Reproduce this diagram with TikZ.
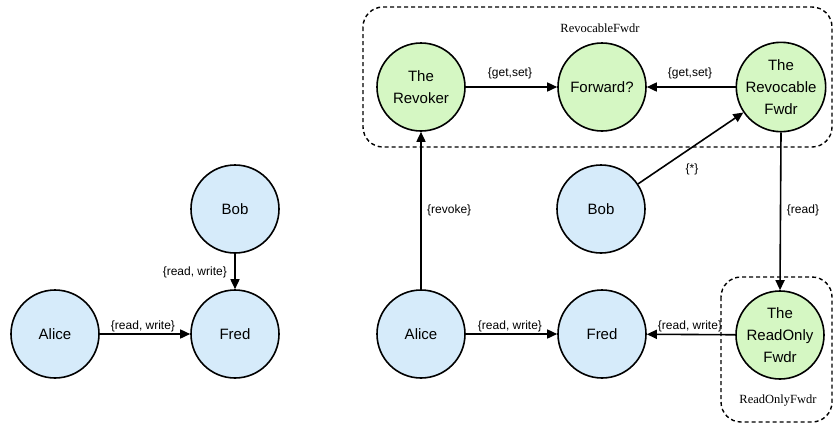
\documentclass[tikz,border=0pt]{standalone}
\usepackage{fontspec}
\setmainfont{Liberation Sans}
\newfontfamily\seriffont{Liberation Serif}
\usetikzlibrary{arrows.meta}
\definecolor{bluefill}{HTML}{D6EBFA}
\definecolor{greenfill}{HTML}{D5F7C3}
\begin{document}
\begin{tikzpicture}[x=1pt,y=-1pt,
  actor/.style={circle,draw=black,line width=1.6pt,minimum size=88pt,inner sep=0pt,align=center,font=\fontsize{15}{22}\selectfont},
  bluenode/.style={actor,fill=bluefill},
  greennode/.style={actor,fill=greenfill},
  conn/.style={line width=1.6pt,-{Triangle[length=10pt,width=9pt]}},
  lbl/.style={font=\fontsize{12}{14}\selectfont,inner sep=0pt},
  grp/.style={draw=black,line width=1.4pt,dash pattern=on 4pt off 3pt,rounded corners=20pt},
  grplbl/.style={font=\seriffont\fontsize{12.5}{14}\selectfont,inner sep=0pt}]
\useasboundingbox (0,0) rectangle (833,424);
% groups
\draw[grp] (363,7) rectangle (832,147);
\node[grplbl] (g1) at (600,28) {RevocableFwdr};
\draw[grp] (721,277) rectangle (832,422);
\node[grplbl] (g2) at (778,401) {ReadOnlyFwdr};
% left diagram
\node[bluenode] (lalice) at (55,334) {Alice};
\node[bluenode] (lfred) at (235,334) {Fred};
\node[bluenode] (lbob) at (235,209) {Bob};
\draw[conn] (lbob) -- (lfred);
\draw[conn] (lalice) -- (lfred);
\node[lbl,anchor=east] (l1) at (227,272) {\{read, write\}};
\node[lbl] (l2) at (143,326) {\{read, write\}};
% right diagram
\node[greennode] (revoker) at (421,87) {The\\Revoker};
\node[greennode] (forward) at (602,87) {Forward?};
\node[greennode] (revfwdr) at (781,87) {The\\Revocable\\Fwdr};
\node[bluenode] (rbob) at (601,209) {Bob};
\node[bluenode] (ralice) at (421,334) {Alice};
\node[bluenode] (rfred) at (602,334) {Fred};
\node[greennode] (rofwdr) at (780,335) {The\\ReadOnly\\Fwdr};
\draw[conn] (revoker) -- (forward);
\draw[conn] (revfwdr) -- (forward);
\draw[conn] (rbob) -- (revfwdr);
\draw[conn] (ralice) -- (revoker);
\draw[conn] (revfwdr.south) -- (rofwdr.north);
\draw[conn] (ralice) -- (rfred);
\draw[conn] (rofwdr) -- (rfred);
\node[lbl] (l3) at (510,73) {\{get,set\}};
\node[lbl] (l4) at (690,73) {\{get,set\}};
\node[lbl] (l5) at (692,169) {\{*\}};
\node[lbl,anchor=west] (l6) at (427,210) {\{revoke\}};
\node[lbl] (l7) at (803,210) {\{read\}};
\node[lbl] (l8) at (510,326) {\{read, write\}};
\node[lbl] (l9) at (690,326) {\{read, write\}};
\end{tikzpicture}
\end{document}
